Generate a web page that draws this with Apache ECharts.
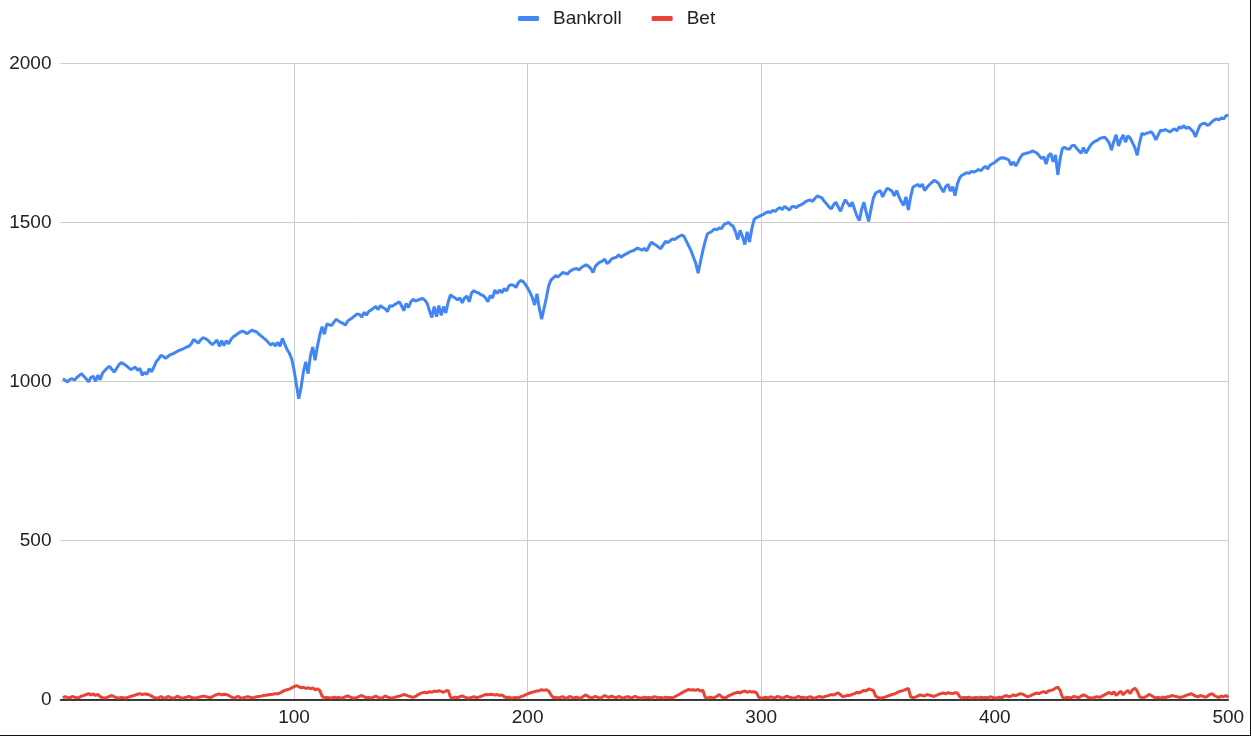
<!DOCTYPE html>
<html>
<head>
<meta charset="utf-8">
<script src="https://cdn.jsdelivr.net/npm/echarts@6/dist/echarts.min.js"></script>
<style>
  html, body { margin: 0; padding: 0; background: #fff; }
  #frame { width: 1250px; height: 735px; border-right: 1px solid #111; border-bottom: 1px solid #111; }
  #chart { width: 1250px; height: 735px; }
</style>
</head>
<body>
<div id="frame"><div id="chart"></div></div>
<script>
const seriesNames = ['Bankroll', 'Bet'];
const xTicks = [100, 200, 300, 400, 500];
const yTicks = [0, 500, 1000, 1500, 2000];

const bankroll = [
  1008, 1003, 998, 1006, 1008, 1004, 1012, 1018, 1024, 1016,
  1008, 998, 1012, 1016, 1000, 1019, 1005, 1026, 1034, 1042,
  1047, 1038, 1029, 1040, 1052, 1059, 1055, 1050, 1044, 1037,
  1040, 1045, 1034, 1041, 1019, 1028, 1022, 1040, 1030, 1045,
  1062, 1070, 1082, 1078, 1072, 1078, 1084, 1086, 1090, 1094,
  1098, 1100, 1104, 1108, 1110, 1118, 1132, 1126, 1120, 1130,
  1137, 1134, 1130, 1122, 1115, 1122, 1130, 1110, 1128, 1112,
  1128, 1118, 1132, 1140, 1145, 1150, 1155, 1158, 1154, 1150,
  1156, 1161, 1158, 1155, 1148, 1142, 1136, 1130, 1122, 1114,
  1120, 1111, 1123, 1110, 1135, 1117, 1100, 1088, 1070, 1035,
  990, 945, 980, 1030, 1061, 1024, 1080, 1108, 1066, 1110,
  1145, 1172, 1148, 1180, 1178, 1175, 1185, 1195, 1190, 1185,
  1182, 1177, 1190, 1195, 1200, 1206, 1212, 1210, 1202, 1217,
  1208, 1220, 1224, 1230, 1235, 1226, 1238, 1232, 1228, 1219,
  1238, 1236, 1241, 1245, 1250, 1238, 1222, 1245, 1232, 1250,
  1258, 1252, 1255, 1258, 1261, 1255, 1245, 1222, 1201, 1235,
  1203, 1238, 1207, 1235, 1215, 1250, 1272, 1266, 1262, 1256,
  1262, 1247, 1262, 1268, 1250, 1278, 1285, 1280, 1278, 1272,
  1270, 1262, 1250, 1270, 1262, 1287, 1276, 1287, 1278, 1292,
  1284, 1300, 1304, 1302, 1295, 1310, 1317, 1314, 1305, 1293,
  1280, 1264, 1240, 1275, 1230, 1195, 1228, 1262, 1300, 1318,
  1325, 1333, 1328, 1335, 1342, 1340, 1337, 1345, 1350, 1353,
  1355, 1350, 1358, 1362, 1366, 1362, 1355, 1342, 1362, 1370,
  1375, 1378, 1384, 1370, 1376, 1385, 1388, 1390, 1398, 1390,
  1396, 1400, 1404, 1408, 1410, 1414, 1419, 1416, 1412, 1418,
  1410, 1425, 1437, 1432, 1428, 1422, 1417, 1428, 1440, 1436,
  1442, 1448, 1446, 1452, 1456, 1460, 1455, 1440, 1425, 1410,
  1390, 1371, 1340, 1376, 1410, 1440, 1464, 1468, 1472, 1479,
  1476, 1482, 1480, 1493, 1496, 1500, 1492, 1488, 1470, 1446,
  1475, 1455, 1430, 1470, 1438, 1480, 1509, 1515, 1518, 1522,
  1525, 1530, 1533, 1531, 1538, 1534, 1542, 1546, 1540, 1550,
  1545, 1538, 1548, 1550, 1546, 1552, 1555, 1559, 1565, 1568,
  1570, 1566, 1575, 1583, 1580, 1577, 1566, 1558, 1549, 1542,
  1555, 1563, 1548, 1535, 1555, 1571, 1560, 1550, 1563, 1540,
  1520, 1505, 1540, 1563, 1530, 1503, 1540, 1575, 1592, 1596,
  1600, 1580, 1595, 1607, 1603, 1598, 1583, 1600, 1580, 1565,
  1553, 1580, 1539, 1580, 1611, 1615, 1619, 1612, 1620, 1600,
  1610, 1618, 1625, 1632, 1628, 1622, 1608, 1595, 1612, 1620,
  1598, 1612, 1584, 1620, 1640, 1648, 1652, 1656, 1654, 1660,
  1658, 1661, 1666, 1662, 1670, 1676, 1668, 1680, 1684, 1688,
  1695, 1700, 1703, 1702, 1700, 1696, 1680, 1690, 1677, 1690,
  1705, 1714, 1716, 1718, 1720, 1724, 1722, 1718, 1710, 1700,
  1706, 1683, 1710, 1717, 1690, 1712, 1649, 1700, 1733, 1735,
  1731, 1730, 1740, 1743, 1733, 1725, 1717, 1735, 1717, 1730,
  1742, 1750, 1755, 1758, 1764, 1766, 1768, 1760, 1750, 1727,
  1755, 1775, 1740, 1760, 1775, 1752, 1772, 1765, 1750, 1735,
  1711, 1750, 1780, 1776, 1780, 1782, 1785, 1775, 1759, 1775,
  1790, 1788, 1792, 1788, 1784, 1790, 1794, 1788, 1800, 1796,
  1804, 1795, 1800, 1792, 1785, 1769, 1790, 1806, 1810, 1812,
  1805, 1808, 1816, 1822, 1825, 1822, 1828, 1825, 1835, 1837
];

const bet = [
  5, 8, 6, 4, 9, 7, 5, 6, 10, 12,
  15, 18, 14, 17, 12, 16, 8, 5, 4, 6,
  9, 12, 8, 5, 4, 6, 5, 4, 7, 9,
  11, 13, 16, 18, 15, 17, 16, 14, 10, 6,
  4, 5, 8, 5, 4, 9, 6, 4, 5, 10,
  6, 4, 5, 7, 9, 6, 5, 4, 6, 8,
  10, 9, 7, 5, 8, 12, 15, 17, 14, 16,
  15, 12, 8, 4, 6, 9, 5, 4, 6, 8,
  7, 5, 6, 8, 9, 10, 12, 13, 14, 15,
  16, 18, 17, 20, 24, 28, 30, 32, 36, 40,
  43, 40, 36, 38, 34, 37, 33, 36, 30, 33,
  28, 10, 4, 6, 5, 4, 7, 5, 6, 4,
  5, 8, 11, 7, 5, 4, 6, 9, 12, 8,
  5, 6, 4, 7, 10, 6, 4, 5, 11, 7,
  5, 4, 6, 8, 10, 12, 15, 13, 10, 8,
  6, 9, 14, 18, 21, 22, 20, 24, 22, 26,
  24, 27, 25, 22, 26, 28, 6, 4, 7, 5,
  8, 11, 7, 5, 4, 6, 8, 5, 7, 9,
  12, 15, 14, 16, 15, 13, 15, 12, 14, 8,
  5, 7, 4, 5, 6, 4, 8, 10, 14, 17,
  20, 22, 24, 26, 27, 30, 28, 30, 26, 14,
  5, 7, 4, 6, 8, 5, 4, 9, 6, 5,
  7, 4, 5, 10, 14, 8, 5, 6, 9, 6,
  4, 7, 12, 8, 6, 10, 7, 5, 9, 6,
  4, 7, 8, 5, 6, 9, 6, 5, 4, 7,
  5, 6, 4, 8, 7, 5, 6, 4, 7, 5,
  6, 4, 8, 12, 16, 20, 24, 28, 31, 29,
  30, 28, 31, 26, 29, 6, 4, 7, 5, 6,
  9, 15, 8, 5, 6, 11, 14, 18, 20, 22,
  20, 24, 26, 22, 25, 23, 24, 20, 6, 4,
  5, 7, 4, 8, 6, 5, 9, 7, 4, 6,
  10, 7, 5, 4, 6, 9, 5, 7, 4, 6,
  8, 5, 4, 7, 9, 6, 8, 10, 12, 15,
  13, 17, 20, 14, 8, 10, 13, 12, 16, 18,
  22, 20, 24, 28, 26, 33, 30, 28, 10, 6,
  4, 5, 7, 10, 12, 15, 17, 20, 24, 26,
  28, 31, 34, 8, 5, 7, 10, 14, 12, 10,
  15, 13, 11, 9, 12, 16, 18, 20, 17, 21,
  19, 18, 21, 20, 8, 4, 6, 5, 7, 4,
  5, 6, 4, 7, 5, 6, 4, 8, 6, 5,
  4, 7, 5, 9, 12, 8, 10, 14, 11, 15,
  18, 16, 12, 8, 10, 14, 17, 20, 18, 22,
  24, 20, 26, 28, 30, 35, 38, 28, 6, 4,
  7, 5, 6, 9, 7, 5, 10, 14, 11, 6,
  5, 4, 7, 8, 6, 10, 14, 18, 22, 16,
  24, 12, 20, 25, 14, 22, 28, 18, 30, 35,
  26, 8, 5, 6, 9, 16, 12, 7, 5, 6,
  4, 7, 5, 8, 9, 12, 10, 8, 6, 7,
  9, 12, 15, 18, 14, 10, 8, 12, 10, 7,
  9, 15, 18, 12, 8, 6, 10, 8, 12, 6
];

const toPairs = arr => arr.map((v, k) => [k + 1, v]);

const chart = echarts.init(document.getElementById('chart'), null, { renderer: 'canvas' });
const font = 'Arial, "Liberation Sans", sans-serif';
chart.setOption({
  animation: false,
  backgroundColor: '#ffffff',
  textStyle: { fontFamily: font },
  legend: {
    data: seriesNames,
    left: 513,
    top: 4,
    icon: 'roundRect',
    itemWidth: 21,
    itemHeight: 5,
    itemGap: 30,
    textStyle: { fontSize: 19, color: '#222', fontFamily: font, padding: [0, 0, 0, 9] }
  },
  grid: { left: 60.5, right: 21.7, top: 63.3, bottom: 35.7, containLabel: false },
  xAxis: {
    type: 'value',
    min: 0,
    max: xTicks[xTicks.length - 1],
    interval: xTicks[1] - xTicks[0],
    axisLine: { show: true, lineStyle: { color: '#000', width: 1.5 } },
    axisTick: { show: false },
    axisLabel: {
      showMinLabel: false,
      fontSize: 19, color: '#222', fontFamily: font, margin: 9,
      formatter: v => (xTicks.indexOf(v) >= 0 ? String(v) : '')
    },
    splitLine: { show: true, showMinLine: false, lineStyle: { color: '#cccccc', width: 1 } }
  },
  yAxis: {
    type: 'value',
    min: yTicks[0],
    max: yTicks[yTicks.length - 1],
    interval: yTicks[1] - yTicks[0],
    axisLine: { show: false },
    axisTick: { show: false },
    axisLabel: {
      fontSize: 19, color: '#222', fontFamily: font, margin: 9,
      formatter: v => String(v)
    },
    splitLine: { show: true, lineStyle: { color: '#cccccc', width: 1 } }
  },
  series: [
    {
      name: seriesNames[0], type: 'line', data: toPairs(bankroll),
      showSymbol: false, symbol: 'none',
      lineStyle: { color: '#4285F4', width: 3 }, itemStyle: { color: '#4285F4' }
    },
    {
      name: seriesNames[1], type: 'line', data: toPairs(bet),
      showSymbol: false, symbol: 'none',
      lineStyle: { color: '#EA4335', width: 3 }, itemStyle: { color: '#EA4335' }
    }
  ]
});
</script>
</body>
</html>
